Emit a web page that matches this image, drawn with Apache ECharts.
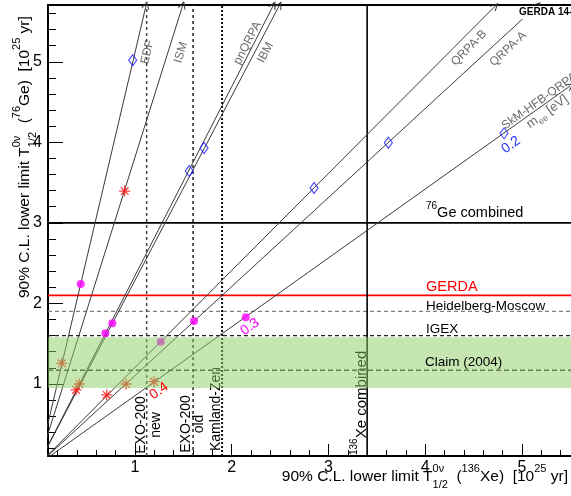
<!DOCTYPE html>
<html>
<head>
<meta charset="utf-8">
<script src="https://cdn.jsdelivr.net/npm/echarts@6/dist/echarts.min.js"></script>
<style>
  html, body { margin: 0; padding: 0; background: #fff; }
  #chart { width: 571px; height: 496px; }
</style>
</head>
<body>
<div id="chart"></div>
<script>
// axes, in 10^25 yr
const xRange = [0.1, 5.508];
const yRange = [0.105, 5.705];
const xMajorTicks = [1, 2, 3, 4, 5];
const xMinorTicks = [0.2, 0.4, 0.6, 0.8, 1.2, 1.4, 1.6, 1.8, 2.2, 2.4, 2.6, 2.8,
  3.2, 3.4, 3.6, 3.8, 4.2, 4.4, 4.6, 4.8, 5.2, 5.4];
const yMajorTicks = [1, 2, 3, 4, 5];
const yMinorTicks = [0.2, 0.4, 0.6, 0.8, 1.2, 1.4, 1.6, 1.8, 2.2, 2.4, 2.6, 2.8,
  3.2, 3.4, 3.6, 3.8, 4.2, 4.4, 4.6, 4.8, 5.2, 5.4, 5.6];

// 136Xe limits (vertical lines)
const xeNames = ['EXO-200 new', 'EXO-200 old', 'Kamland-Zen', '136Xe combined'];
const xeLimits = [1.12, 1.60, 1.90, 3.40];

// 76Ge limits (horizontal lines)
const geNames = ['76Ge combined', 'GERDA', 'Heidelberg-Moscow', 'IGEX', 'Claim (2004)'];
const geLimits = [3.0, 2.1, 1.9, 1.6, 1.17];
const claimBand = [0.95, 1.58];

// matrix element models, line end points (lines start at 0,0)
const models = ['EDF', 'ISM', 'pnQRPA', 'IBM', 'QRPA-B', 'QRPA-A', 'SkM-HFB-QRPA'];
const modelEndXe = [1.114, 1.493, 2.430, 2.492, 4.723, 5.16, 5.499];
const modelEndGe = [5.70, 5.70, 5.70, 5.70, 5.69, 5.70, 4.70];

// m_ee = 0.2 eV (diamonds)
const mee02Xe = [0.976, 1.561, 1.714, 2.851, 3.619, 4.816];
const mee02Ge = [5.02, 3.643, 3.929, 3.432, 3.995, 4.111];
// m_ee = 0.3 eV (dots)
const mee03Xe = [0.438, 0.693, 0.765, 1.266, 1.610, 2.145];
const mee03Ge = [2.24, 1.629, 1.753, 1.524, 1.781, 1.827];
// m_ee = 0.4 eV (stars)
const mee04Xe = [0.242, 0.893, 0.390, 0.424, 0.707, 0.907, 1.196];
const mee04Ge = [1.256, 3.395, 0.925, 0.999, 0.863, 0.999, 1.028];

const FONT = '"Liberation Sans", Arial, sans-serif';

const geStyles = {
  '76Ge combined': { color: '#000', width: 1.6, type: 'solid' },
  'GERDA': { color: '#ff0000', width: 1.6, type: 'solid' },
  'Heidelberg-Moscow': { color: '#808080', width: 1.3, type: [4, 3] },
  'IGEX': { color: '#222', width: 1.3, type: [4, 3] },
  'Claim (2004)': { color: '#333', width: 1.5, type: [5, 3] },
};
const xeStyles = {
  'EXO-200 new': { color: '#444', width: 1.5, type: [3, 3] },
  'EXO-200 old': { color: '#222', width: 1.5, type: [3, 3] },
  'Kamland-Zen': { color: '#111', width: 2, type: [2, 2] },
  '136Xe combined': { color: '#000', width: 1.6, type: 'solid' },
};

const measureCtx = document.createElement('canvas').getContext('2d');
function measure(text, size, weight) {
  measureCtx.font = (weight || 'normal') + ' ' + size + 'px ' + FONT;
  return measureCtx.measureText(text).width;
}

function piece(text, u, v, size, color, z, weight) {
  return {
    type: 'text', x: u, y: v, z: z,
    style: {
      text: text, fontSize: size, fontFamily: FONT, fontWeight: weight || 'normal', fill: color,
      textAlign: 'left', align: 'left', textVerticalAlign: 'middle', verticalAlign: 'middle',
    },
  };
}

// text with super/subscripts laid out by hand
function compound(segs, opt) {
  const size = opt.size;
  const small = opt.small || Math.round(size * 0.7);
  const color = opt.color || '#000';
  const z = opt.z === undefined ? 20 : opt.z;
  const kids = [];
  let u = 0;
  segs.forEach((seg) => {
    const kind = seg[0];
    if (kind === 'n') {
      kids.push(piece(seg[1], u, 0, size, color, z));
      u += measure(seg[1], size);
    } else if (kind === 'sup') {
      kids.push(piece(seg[1], u, -0.5 * size, small, color, z));
      u += measure(seg[1], small);
    } else if (kind === 'sub') {
      kids.push(piece(seg[1], u, 0.35 * size, small, color, z));
      u += measure(seg[1], small);
    } else {
      kids.push(piece(seg[1], u, -0.5 * size, small, color, z));
      kids.push(piece(seg[2], u, 0.53 * size, small, color, z));
      u += Math.max(measure(seg[1], small), measure(seg[2], small));
    }
  });
  if (opt.alignRight) kids.forEach((k) => { k.x -= u; });
  return { type: 'group', x: opt.x, y: opt.y, rotation: opt.rotation || 0, children: kids };
}

function plainText(text, x, y, opt) {
  return {
    type: 'text', x: x, y: y, rotation: opt.rotation || 0, z: opt.z === undefined ? 20 : opt.z,
    style: {
      text: text, fontSize: opt.size, fontFamily: FONT, fontWeight: opt.weight || 'normal',
      fill: opt.color || '#000', lineHeight: opt.lineHeight,
      textAlign: opt.align || 'left', align: opt.align || 'left',
      textVerticalAlign: 'middle', verticalAlign: 'middle',
    },
  };
}

const series = [];

geNames.forEach((name, i) => {
  series.push({
    type: 'line', name: name, silent: true, symbol: 'none', z: 3,
    data: [[xRange[0], geLimits[i]], [xRange[1], geLimits[i]]],
    lineStyle: geStyles[name],
  });
});

xeNames.forEach((name, i) => {
  series.push({
    type: 'line', name: name, silent: true, symbol: 'none', z: 3,
    data: [[xeLimits[i], yRange[0]], [xeLimits[i], yRange[1]]],
    lineStyle: xeStyles[name],
  });
});

// open arrow head, like ROOT's "->"
const arrowHead = 'path://M0,10L5,0L10,10';
const arrowStyle = { color: 'rgba(0,0,0,0)', borderColor: '#3a3a3a', borderWidth: 1 };

models.forEach((name, i) => {
  series.push({
    id: 'model' + i, type: 'line', name: name, silent: true, z: 4, clip: true,
    symbol: 'none', showSymbol: true,
    data: [
      { value: [0, 0], symbol: 'none' },
      { value: [modelEndXe[i], modelEndGe[i]], symbol: arrowHead, symbolSize: [7, 7], itemStyle: arrowStyle },
    ],
    lineStyle: { color: '#3a3a3a', width: 1 },
  });
});

series.push({
  type: 'scatter', name: '0.2 eV', z: 6, silent: true,
  data: mee02Xe.map((x, i) => [x, mee02Ge[i]]),
  symbol: 'path://M5,0L10,7L5,14L0,7Z', symbolSize: [8, 11],
  itemStyle: { color: 'rgba(0,0,0,0)', borderColor: '#2020ff', borderWidth: 1.2 },
});
series.push({
  type: 'scatter', name: '0.3 eV', z: 6, silent: true,
  data: mee03Xe.map((x, i) => [x, mee03Ge[i]]),
  symbol: 'circle', symbolSize: 8,
  itemStyle: { color: '#ff00ff' },
});
series.push({
  type: 'scatter', name: '0.4 eV', z: 6, silent: true,
  data: mee04Xe.map((x, i) => [x, mee04Ge[i]]),
  symbol: 'path://M5,0L5,10M0,5L10,5M1.5,1.5L8.5,8.5M8.5,1.5L1.5,8.5', symbolSize: 11,
  itemStyle: { color: '#ff1010', borderColor: '#ff1010', borderWidth: 1.3 },
});

const tickLabel = { fontSize: 16, fontFamily: FONT, color: '#000' };
const frameLine = { show: true, lineStyle: { color: '#000', width: 2 } };

const option = {
  animation: false,
  backgroundColor: '#fff',
  grid: { left: 48, right: 0, top: 5, bottom: 40, show: false },
  xAxis: [
    {
      type: 'value', min: xRange[0], max: xRange[1], position: 'bottom',
      axisLine: frameLine, splitLine: { show: false },
      axisTick: { show: true, inside: true, length: 12, customValues: xMajorTicks, lineStyle: { color: '#000', width: 1 } },
      axisLabel: Object.assign({ customValues: xMajorTicks, margin: 4 }, tickLabel),
    },
    {
      type: 'value', min: xRange[0], max: xRange[1], position: 'bottom',
      axisLine: { show: false }, splitLine: { show: false }, axisLabel: { show: false },
      axisTick: { show: true, inside: true, length: 6, customValues: xMinorTicks, lineStyle: { color: '#000', width: 1 } },
    },
    {
      type: 'value', min: xRange[0], max: xRange[1], position: 'top',
      axisLine: frameLine, splitLine: { show: false }, axisLabel: { show: false }, axisTick: { show: false },
    },
  ],
  yAxis: [
    {
      type: 'value', min: yRange[0], max: yRange[1], position: 'left',
      axisLine: frameLine, splitLine: { show: false },
      axisTick: { show: true, inside: true, length: 15, customValues: yMajorTicks, lineStyle: { color: '#000', width: 1 } },
      axisLabel: Object.assign({ customValues: yMajorTicks, margin: 6 }, tickLabel),
    },
    {
      type: 'value', min: yRange[0], max: yRange[1], position: 'left',
      axisLine: { show: false }, splitLine: { show: false }, axisLabel: { show: false },
      axisTick: { show: true, inside: true, length: 8, customValues: yMinorTicks, lineStyle: { color: '#000', width: 1 } },
    },
  ],
  series: series,
};

const chart = echarts.init(document.getElementById('chart'));
chart.setOption(option);

const toPx = (p) => chart.convertToPixel({ gridIndex: 0 }, p);

// line directions on screen, for arrows and labels
const angles = models.map((m, i) => {
  const p0 = toPx([0, 0]);
  const p1 = toPx([modelEndXe[i], modelEndGe[i]]);
  return Math.atan2(p0[1] - p1[1], p1[0] - p0[0]);
});

const graphics = [];

// claim band, translucent, over the lines and markers
const bandTop = toPx([xRange[0], claimBand[1]]);
const bandBottom = toPx([xRange[1], claimBand[0]]);
graphics.push({
  type: 'rect', z: 10, silent: true,
  shape: { x: bandTop[0], y: bandTop[1], width: bandBottom[0] - bandTop[0], height: bandBottom[1] - bandTop[1] },
  style: { fill: 'rgba(140,205,100,0.5)' },
});

const modelLabelPos = [
  [147.5, 52], [181, 52.5], [247.5, 43], [265.5, 52.5], [469, 48], [508, 49],
];
models.slice(0, 6).forEach((name, i) => {
  graphics.push(plainText(name, modelLabelPos[i][0], modelLabelPos[i][1],
    { size: 12, color: '#6a6a6a', align: 'center', rotation: angles[i] }));
});
const skmAngle = angles[6];
graphics.push(plainText('SkM-HFB-QRPA', 503, 127, { size: 12, color: '#6a6a6a', rotation: skmAngle }));
graphics.push(compound([['n', 'm'], ['sub', 'ee'], ['n', ' [eV]']],
  { x: 528, y: 125.5, size: 13, small: 9, color: '#6a6a6a', rotation: skmAngle }));
graphics.push(plainText('0.2', 511, 145, { size: 14, color: '#2030ff', align: 'center', rotation: skmAngle }));
graphics.push(plainText('0.3', 250, 327, { size: 14, color: '#ff00ff', align: 'center', rotation: skmAngle }));
graphics.push(plainText('0.4', 159, 391, { size: 14, color: '#ff0000', align: 'center', rotation: skmAngle }));

// horizontal line labels
graphics.push(compound([['sup', '76'], ['n', 'Ge combined']], { x: 426, y: 213, size: 14.5, small: 10 }));
graphics.push(plainText('GERDA', 426, 286.5, { size: 14.5, color: '#ff0000' }));
graphics.push(plainText('Heidelberg-Moscow', 426, 306.5, { size: 13.5 }));
graphics.push(plainText('IGEX', 426, 329.5, { size: 13.5 }));
graphics.push(plainText('Claim (2004)', 425, 362.5, { size: 13.5 }));

// vertical line labels (under the band)
graphics.push(plainText('EXO-200\nnew', 149, 425, { size: 14, lineHeight: 15, align: 'center', rotation: Math.PI / 2, z: 1 }));
graphics.push(plainText('EXO-200\nold', 193, 424, { size: 14, lineHeight: 13, align: 'center', rotation: Math.PI / 2, z: 1 }));
graphics.push(plainText('Kamland-Zen', 215.7, 409, { size: 14, align: 'center', rotation: Math.PI / 2, z: 1 }));
graphics.push(compound([['sup', '136'], ['n', 'Xe combined']],
  { x: 361.5, y: 455, size: 15, small: 10, rotation: Math.PI / 2, z: 1 }));

// axis titles
graphics.push(compound([['n', '90% C.L. lower limit T'], ['ss', '0ν', '1/2'], ['n', '  ('], ['sup', '136'],
  ['n', 'Xe)  [10'], ['sup', '25'], ['n', ' yr]']],
  { x: 568, y: 476.5, size: 15.5, small: 11, alignRight: true }));
graphics.push(compound([['n', '90% C.L. lower limit T'], ['ss', '0ν', '1/2'], ['n', '  ('], ['sup', '76'],
  ['n', 'Ge)  [10'], ['sup', '25'], ['n', ' yr]']],
  { x: 25, y: 298, size: 15.5, small: 11, rotation: Math.PI / 2 }));

// tag in the top corner
graphics.push({
  type: 'rect', z: 30, silent: true, shape: { x: 512, y: 6, width: 70, height: 13 },
  style: { fill: '#fff' },
});
graphics.push(plainText('GERDA 14-01', 519, 12.5, { size: 10, weight: 'bold', z: 31 }));

chart.setOption({
  series: models.map((m, i) => ({
    id: 'model' + i,
    data: [
      { value: [0, 0], symbol: 'none' },
      {
        value: [modelEndXe[i], modelEndGe[i]], symbol: arrowHead, symbolSize: [7, 7], itemStyle: arrowStyle,
        symbolRotate: angles[i] * 180 / Math.PI - 90,
      },
    ],
  })),
  graphic: { elements: graphics },
});
</script>
</body>
</html>
